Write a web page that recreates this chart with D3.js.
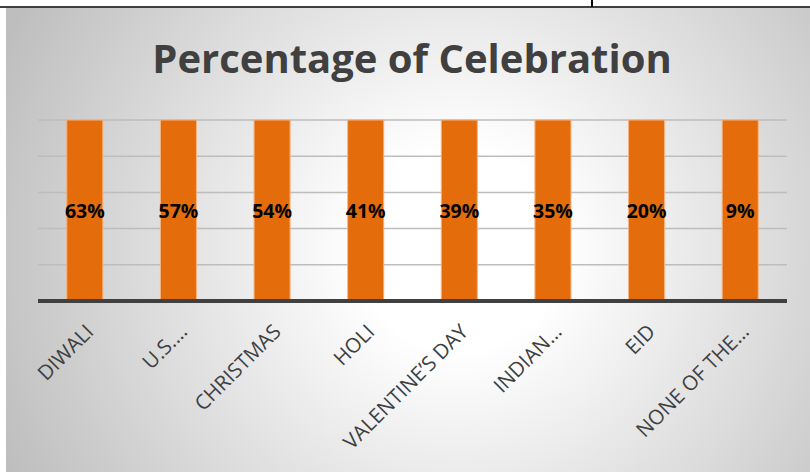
<!DOCTYPE html>
<html>
<head>
<meta charset="utf-8">
<script src="https://cdn.jsdelivr.net/npm/d3@7"></script>
<style>
  html, body { margin: 0; padding: 0; background: #fff; }
  svg { display: block; }
</style>
</head>
<body>
<svg id="chart"></svg>
<script>
const categories = ["DIWALI", "U.S.…", "CHRISTMAS", "HOLI", "VALENTINE’S DAY", "INDIAN…", "EID", "NONE OF THE…"];
const values = [0.63, 0.57, 0.54, 0.41, 0.39, 0.35, 0.20, 0.09];
const yTicks = [0, 0.01, 0.02, 0.03, 0.04, 0.05];

const width = 810, height = 473;
const margin = { left: 38, right: 23, top: 120, bottom: 172 };

const svg = d3.select('#chart')
  .attr('width', width)
  .attr('height', height);

// background gradient like the office chart
const defs = svg.append('defs');
const grad = defs.append('radialGradient')
  .attr('id', 'bg')
  .attr('gradientUnits', 'userSpaceOnUse')
  .attr('cx', 460).attr('cy', 250).attr('r', 500);
grad.append('stop').attr('offset', '0%').attr('stop-color', '#ffffff');
grad.append('stop').attr('offset', '20%').attr('stop-color', '#ffffff');
grad.append('stop').attr('offset', '100%').attr('stop-color', '#bebebe');

svg.append('rect')
  .attr('x', 6).attr('y', 8)
  .attr('width', width - 6).attr('height', height - 9)
  .attr('fill', 'url(#bg)');

// table borders above the chart
svg.append('line').attr('x1', 0).attr('x2', width).attr('y1', 7).attr('y2', 7)
  .attr('stroke', '#000').attr('stroke-width', 1.5);
svg.append('line').attr('x1', 592).attr('x2', 592).attr('y1', 0).attr('y2', 7)
  .attr('stroke', '#000').attr('stroke-width', 2);

const x = d3.scaleBand()
  .domain(categories)
  .range([margin.left, width - margin.right])
  .paddingInner(0.615)
  .paddingOuter(0.3075);

const yMax = d3.max(yTicks);
const y = d3.scaleLinear()
  .domain([0, yMax])
  .range([height - margin.bottom, margin.top]);

// gridlines
svg.append('g')
  .selectAll('line')
  .data(yTicks.slice(1))
  .enter().append('line')
  .attr('x1', margin.left).attr('x2', width - margin.right)
  .attr('y1', d => y(d)).attr('y2', d => y(d))
  .attr('stroke', '#bdbdbd')
  .attr('stroke-width', 1.5);

// bars (axis max is below the values, so they are clipped at the top)
svg.append('g')
  .selectAll('rect')
  .data(values)
  .enter().append('rect')
  .attr('x', (d, i) => x(categories[i]))
  .attr('width', x.bandwidth())
  .attr('y', d => y(Math.min(d, yMax)))
  .attr('height', d => y(0) - y(Math.min(d, yMax)))
  .attr('fill', '#e46c0a')
  .attr('stroke', '#f6b483')
  .attr('stroke-width', 1);

// baseline
svg.append('line')
  .attr('x1', margin.left).attr('x2', width - margin.right)
  .attr('y1', y(0)).attr('y2', y(0))
  .attr('stroke', '#404040')
  .attr('stroke-width', 4);

// data labels
svg.append('g')
  .selectAll('text')
  .data(values)
  .enter().append('text')
  .attr('x', (d, i) => x(categories[i]) + x.bandwidth() / 2)
  .attr('y', d => (y(0) + y(Math.min(d, yMax))) / 2)
  .attr('dy', '0.4em')
  .attr('text-anchor', 'middle')
  .attr('font-family', 'Open Sans, sans-serif')
  .attr('font-weight', 'bold')
  .attr('font-size', 19.5)
  .attr('fill', '#000')
  .text(d => d3.format('.0%')(d));

// category labels
svg.append('g')
  .selectAll('text')
  .data(categories)
  .enter().append('text')
  .attr('transform', d => 'translate(' + (x(d) + x.bandwidth() / 2 + 5) + ',' + (y(0) + 27) + ')rotate(-45)')
  .attr('text-anchor', 'end')
  .attr('dy', '0.35em')
  .attr('font-family', 'Open Sans, sans-serif')
  .attr('font-size', 20.5)
  .attr('fill', '#404040')
  .text(d => d);

// title
svg.append('text')
  .attr('x', 412)
  .attr('y', 73)
  .attr('text-anchor', 'middle')
  .attr('font-family', 'Open Sans, sans-serif')
  .attr('font-weight', 'bold')
  .attr('font-size', 40)
  .attr('fill', '#404040')
  .text('Percentage of Celebration');
</script>
</body>
</html>
